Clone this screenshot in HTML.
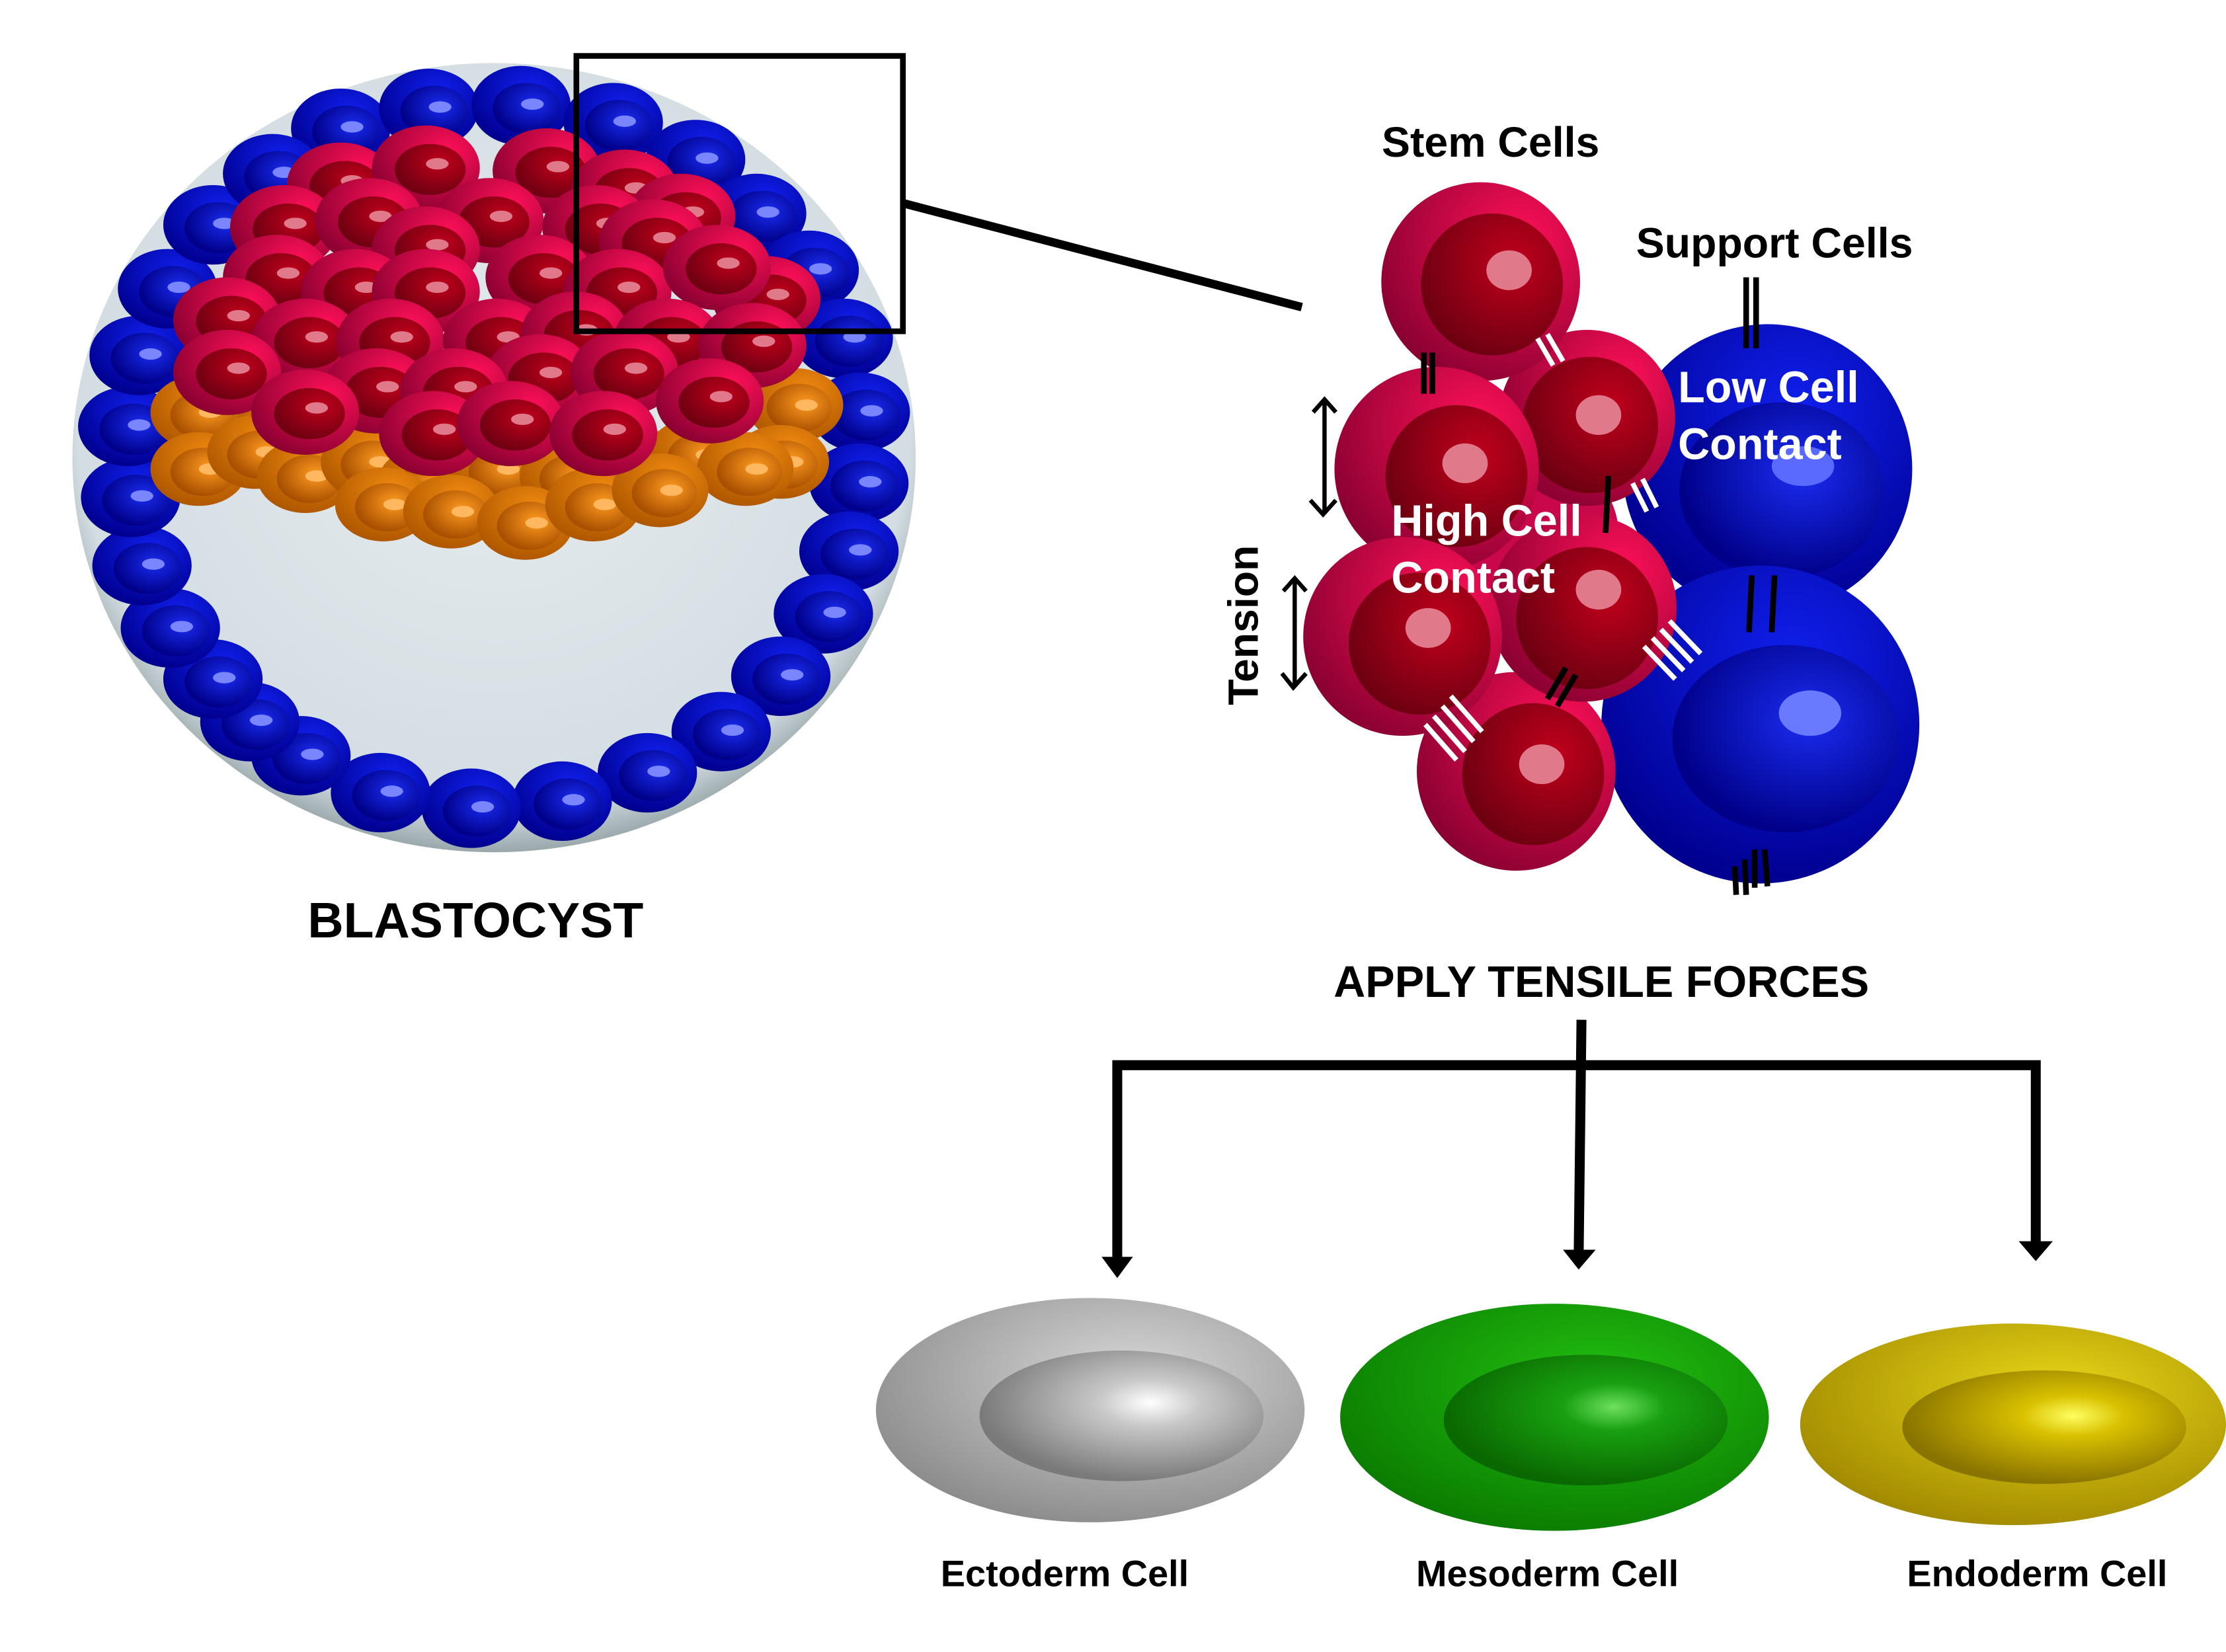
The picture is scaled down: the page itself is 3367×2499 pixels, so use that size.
<!DOCTYPE html>
<html><head><meta charset="utf-8"><style>
html,body{margin:0;padding:0;background:#fff}
svg{display:block}
text{font-family:"Liberation Sans",Arial,sans-serif;font-weight:bold}
</style></head><body>
<svg width="3367" height="2499" viewBox="0 0 1568 1163" xmlns="http://www.w3.org/2000/svg">
<defs>
<radialGradient id="bg" cx="0.5" cy="0.45" r="0.55"><stop offset="0" stop-color="#e6ecef"/><stop offset="0.9" stop-color="#d3dde2"/><stop offset="1" stop-color="#9aa8ab"/></radialGradient>
<radialGradient id="bo" cx="0.6" cy="0.3" r="0.7"><stop offset="0" stop-color="#1020ee"/><stop offset="1" stop-color="#000090"/></radialGradient>
<radialGradient id="bi" cx="0.6" cy="0.4" r="0.6"><stop offset="0" stop-color="#1a2cf0"/><stop offset="1" stop-color="#000088"/></radialGradient>
<radialGradient id="ro" cx="0.7" cy="0.3" r="0.8"><stop offset="0" stop-color="#ff1058"/><stop offset="1" stop-color="#860030"/></radialGradient>
<radialGradient id="ri" cx="0.65" cy="0.35" r="0.7"><stop offset="0" stop-color="#c0001c"/><stop offset="1" stop-color="#6c0010"/></radialGradient>
<radialGradient id="oo" cx="0.6" cy="0.3" r="0.7"><stop offset="0" stop-color="#f08a10"/><stop offset="1" stop-color="#b05800"/></radialGradient>
<radialGradient id="oi" cx="0.6" cy="0.4" r="0.6"><stop offset="0" stop-color="#ff9a20"/><stop offset="1" stop-color="#a85000"/></radialGradient>
<radialGradient id="gyo" cx="0.6" cy="0.35" r="0.7"><stop offset="0" stop-color="#d8d8d8"/><stop offset="1" stop-color="#8a8a8a"/></radialGradient>
<radialGradient id="gyi" cx="0.6" cy="0.4" r="0.6"><stop offset="0" stop-color="#fff"/><stop offset="0.3" stop-color="#c8c8c8"/><stop offset="1" stop-color="#7a7a7a"/></radialGradient>
<radialGradient id="gno" cx="0.6" cy="0.35" r="0.7"><stop offset="0" stop-color="#22c010"/><stop offset="1" stop-color="#0a7a00"/></radialGradient>
<radialGradient id="gni" cx="0.6" cy="0.4" r="0.6"><stop offset="0" stop-color="#6ee060"/><stop offset="0.3" stop-color="#18a010"/><stop offset="1" stop-color="#0a6800"/></radialGradient>
<radialGradient id="yo" cx="0.6" cy="0.35" r="0.7"><stop offset="0" stop-color="#e8d818"/><stop offset="1" stop-color="#a08800"/></radialGradient>
<radialGradient id="yi" cx="0.6" cy="0.4" r="0.6"><stop offset="0" stop-color="#ffff60"/><stop offset="0.3" stop-color="#d8c000"/><stop offset="1" stop-color="#8a7400"/></radialGradient>
<g id="bc"><ellipse rx="35" ry="28" fill="url(#bo)"/><ellipse cx="4" cy="2" rx="24" ry="18" fill="url(#bi)"/><ellipse cx="8" cy="-1" rx="8" ry="4" fill="#7a86ff"/></g>
<g id="rc"><ellipse rx="38" ry="30" fill="url(#ro)"/><ellipse cx="3" cy="1" rx="25" ry="18" fill="url(#ri)"/><ellipse cx="8" cy="-3" rx="8" ry="4" fill="#e07a8a"/></g>
<g id="oc"><ellipse rx="34" ry="26" fill="url(#oo)"/><ellipse cx="3" cy="2" rx="23" ry="17" fill="url(#oi)"/><ellipse cx="8" cy="0" rx="8" ry="4" fill="#ffb860"/></g>
</defs>

<ellipse cx="348" cy="322" rx="297" ry="278" fill="url(#bg)"/>
<g>
<use href="#bc" x="240" y="90"/><use href="#bc" x="302" y="76"/><use href="#bc" x="367" y="74"/><use href="#bc" x="432" y="86"/><use href="#bc" x="490" y="112"/><use href="#bc" x="533" y="150"/><use href="#bc" x="570" y="190"/><use href="#bc" x="594" y="238"/><use href="#bc" x="606" y="290"/><use href="#bc" x="605" y="340"/><use href="#bc" x="598" y="388"/><use href="#bc" x="580" y="432"/><use href="#bc" x="550" y="476"/><use href="#bc" x="508" y="515"/><use href="#bc" x="456" y="544"/><use href="#bc" x="396" y="564"/><use href="#bc" x="332" y="569"/><use href="#bc" x="268" y="558"/><use href="#bc" x="212" y="532"/><use href="#bc" x="176" y="508"/><use href="#bc" x="150" y="478"/><use href="#bc" x="120" y="442"/><use href="#bc" x="100" y="398"/><use href="#bc" x="92" y="350"/><use href="#bc" x="90" y="300"/><use href="#bc" x="98" y="250"/><use href="#bc" x="118" y="203"/><use href="#bc" x="150" y="158"/><use href="#bc" x="192" y="122"/>
</g>
<g>
<use href="#oc" x="140" y="290"/><use href="#oc" x="200" y="300"/><use href="#oc" x="560" y="285"/><use href="#oc" x="550" y="325"/><use href="#oc" x="140" y="330"/><use href="#oc" x="180" y="318"/><use href="#oc" x="215" y="335"/><use href="#oc" x="260" y="325"/><use href="#oc" x="300" y="340"/><use href="#oc" x="350" y="330"/><use href="#oc" x="400" y="335"/><use href="#oc" x="445" y="325"/><use href="#oc" x="490" y="320"/><use href="#oc" x="525" y="330"/><use href="#oc" x="270" y="355"/><use href="#oc" x="318" y="360"/><use href="#oc" x="370" y="368"/><use href="#oc" x="418" y="355"/><use href="#oc" x="465" y="345"/>
</g>
<g>
<use href="#rc" x="240" y="130"/><use href="#rc" x="300" y="118"/><use href="#rc" x="385" y="120"/><use href="#rc" x="440" y="135"/><use href="#rc" x="480" y="152"/><use href="#rc" x="200" y="160"/><use href="#rc" x="260" y="155"/><use href="#rc" x="345" y="155"/><use href="#rc" x="420" y="160"/><use href="#rc" x="300" y="175"/><use href="#rc" x="460" y="170"/><use href="#rc" x="195" y="195"/><use href="#rc" x="250" y="205"/><use href="#rc" x="380" y="195"/><use href="#rc" x="540" y="210"/><use href="#rc" x="300" y="205"/><use href="#rc" x="435" y="205"/><use href="#rc" x="505" y="188"/><use href="#rc" x="160" y="225"/><use href="#rc" x="215" y="240"/><use href="#rc" x="275" y="240"/><use href="#rc" x="350" y="240"/><use href="#rc" x="405" y="235"/><use href="#rc" x="470" y="240"/><use href="#rc" x="530" y="243"/><use href="#rc" x="160" y="262"/><use href="#rc" x="265" y="275"/><use href="#rc" x="380" y="265"/><use href="#rc" x="440" y="262"/><use href="#rc" x="215" y="290"/><use href="#rc" x="320" y="275"/><use href="#rc" x="500" y="282"/><use href="#rc" x="305" y="305"/><use href="#rc" x="360" y="298"/><use href="#rc" x="425" y="305"/>
</g>
<rect x="406" y="39" width="230" height="194" fill="none" stroke="#000" stroke-width="4"/>
<line x1="637" y1="143" x2="917" y2="216" stroke="#000" stroke-width="6"/>

<g>
<circle cx="1245" cy="330" r="102" fill="url(#bo)"/><ellipse cx="1255" cy="345" rx="72" ry="62" fill="url(#bi)"/><ellipse cx="1270" cy="328" rx="22" ry="14" fill="#5a6aff"/>
<circle cx="1240" cy="510" r="112" fill="url(#bo)"/><ellipse cx="1258" cy="520" rx="80" ry="66" fill="url(#bi)"/><ellipse cx="1275" cy="502" rx="22" ry="16" fill="#6a7aff"/>
</g>
<g>
<ellipse cx="1080" cy="375" rx="60" ry="55" fill="#c8084a"/>
<g transform="translate(1068,543)"><circle r="70" fill="url(#ro)"/><circle cx="12" cy="2" r="50" fill="url(#ri)"/><ellipse cx="18" cy="-5" rx="16" ry="14" fill="#e07a8a"/></g>
<g transform="translate(1118,294)"><circle r="62" fill="url(#ro)"/><circle cx="2" cy="5" r="48" fill="url(#ri)"/><ellipse cx="8" cy="-2" rx="16" ry="14" fill="#e07a8a"/></g>
<g transform="translate(1043,198)"><circle r="70" fill="url(#ro)"/><circle cx="8" cy="2" r="50" fill="url(#ri)"/><ellipse cx="20" cy="-8" rx="16" ry="14" fill="#e07a8a"/></g>
<g transform="translate(1012,330)"><circle r="72" fill="url(#ro)"/><circle cx="14" cy="5" r="50" fill="url(#ri)"/><ellipse cx="20" cy="-4" rx="16" ry="14" fill="#e07a8a"/></g>
<g transform="translate(1115,428)"><circle r="66" fill="url(#ro)"/><circle cx="3" cy="7" r="50" fill="url(#ri)"/><ellipse cx="11" cy="-13" rx="16" ry="14" fill="#e07a8a"/></g>
<g transform="translate(988,448)"><circle r="70" fill="url(#ro)"/><circle cx="12" cy="5" r="50" fill="url(#ri)"/><ellipse cx="18" cy="-6" rx="16" ry="14" fill="#e07a8a"/></g>
</g>
<g stroke="#000" stroke-width="4">
<line x1="1230" y1="195" x2="1230" y2="245"/><line x1="1237" y1="195" x2="1237" y2="245"/>
<line x1="1003" y1="248" x2="1003" y2="277"/><line x1="1009" y1="248" x2="1009" y2="277"/>
<line x1="1133" y1="335" x2="1131" y2="375"/>
<line x1="1234" y1="405" x2="1232" y2="445"/><line x1="1250" y1="405" x2="1248" y2="445"/>
<line x1="1090" y1="492" x2="1103" y2="470"/><line x1="1097" y1="497" x2="1110" y2="475"/>
<line x1="1222" y1="610" x2="1223" y2="630"/><line x1="1229" y1="605" x2="1230" y2="630"/><line x1="1236" y1="598" x2="1236" y2="625"/><line x1="1243" y1="598" x2="1245" y2="624"/>
</g>
<g stroke="#fff" stroke-width="3.5">
<line x1="1083" y1="238" x2="1094" y2="257"/><line x1="1090" y1="235" x2="1101" y2="254"/>
<line x1="1150" y1="340" x2="1160" y2="360"/><line x1="1157" y1="337" x2="1167" y2="357"/>
<line x1="1158" y1="455" x2="1180" y2="478"/><line x1="1164" y1="449" x2="1186" y2="472"/><line x1="1170" y1="443" x2="1192" y2="466"/><line x1="1176" y1="437" x2="1198" y2="460"/>
<line x1="1004" y1="510" x2="1026" y2="535"/><line x1="1010" y1="504" x2="1032" y2="529"/><line x1="1016" y1="497" x2="1038" y2="522"/><line x1="1022" y1="490" x2="1044" y2="515"/>
</g>
<g stroke="#000" stroke-width="3" fill="none">
<line x1="933" y1="283" x2="933" y2="360"/><polyline points="925,290 933,281 941,290"/><polyline points="923,352 932,362 941,352"/>
<line x1="912" y1="408" x2="912" y2="482"/><polyline points="904,416 912,407 920,416"/><polyline points="903,474 911,484 920,474"/>
</g>

<g stroke="#000" stroke-width="7" fill="none">
<polyline points="787,888 787,750 1434,750 1434,880"/>
<line x1="1114" y1="718" x2="1112" y2="885"/>
</g>
<g fill="#000">
<polygon points="776,885 798,885 787,900"/><polygon points="1101,880 1124,880 1112,894"/><polygon points="1422,874 1446,874 1434,888"/>
</g>

<ellipse cx="768" cy="993" rx="151" ry="79" fill="url(#gyo)"/><ellipse cx="790" cy="997" rx="100" ry="46" fill="url(#gyi)"/>
<ellipse cx="1095" cy="998" rx="151" ry="80" fill="url(#gno)"/><ellipse cx="1117" cy="1000" rx="100" ry="46" fill="url(#gni)"/>
<ellipse cx="1418" cy="1003" rx="150" ry="71" fill="url(#yo)"/><ellipse cx="1440" cy="1005" rx="100" ry="40" fill="url(#yi)"/>

<text x="335" y="660" font-size="35" text-anchor="middle">BLASTOCYST</text>
<text x="1050" y="110" font-size="30" text-anchor="middle">Stem Cells</text>
<text x="1250" y="181" font-size="30" text-anchor="middle">Support Cells</text>
<text x="1182" y="283" font-size="31" fill="#ffffff">Low Cell</text>
<text x="1182" y="323" font-size="31" fill="#ffffff">Contact</text>
<text x="980" y="377" font-size="31" fill="#ffffff">High Cell</text>
<text x="980" y="417" font-size="31" fill="#ffffff">Contact</text>
<text transform="translate(886,440) rotate(-90)" font-size="30" text-anchor="middle">Tension</text>
<text x="1128" y="702" font-size="31" text-anchor="middle">APPLY TENSILE  FORCES</text>
<text x="750" y="1117" font-size="26" text-anchor="middle">Ectoderm Cell</text>
<text x="1090" y="1117" font-size="26" text-anchor="middle">Mesoderm Cell</text>
<text x="1435" y="1117" font-size="26" text-anchor="middle">Endoderm Cell</text>
</svg>
</body></html>
